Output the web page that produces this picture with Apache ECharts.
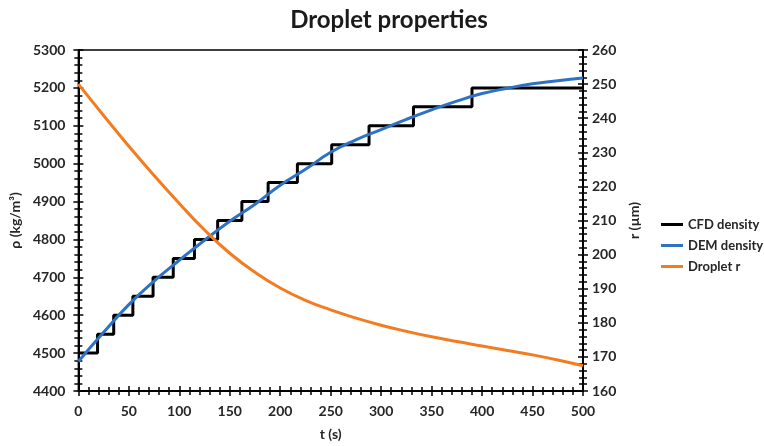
<!DOCTYPE html>
<html>
<head>
<meta charset="utf-8">
<script src="https://cdn.jsdelivr.net/npm/echarts@6/dist/echarts.min.js"></script>
<style>
  html, body { margin: 0; padding: 0; background: #fff; }
  #chart { width: 764px; height: 446px; }
</style>
</head>
<body>
<div id="chart"></div>
<script>
// CFD density: step changes (time s, density kg/m3)
const cfdTimes = [0, 19, 35, 54, 74, 94, 115, 138, 162, 188, 217, 251, 288, 332, 390, 500];
const cfdDensity = [4500, 4550, 4600, 4650, 4700, 4750, 4800, 4850, 4900, 4950, 5000, 5050, 5100, 5150, 5200, 5200];

// smooth curves sampled every 25 s
const curveTimes = [0, 25, 50, 75, 100, 125, 150, 175, 200, 225, 250, 275, 300, 325, 350, 375, 400, 425, 450, 475, 500];
const demDensity = [4478, 4555, 4628, 4690, 4745, 4798, 4848, 4893, 4943, 4985, 5030, 5063, 5090, 5117, 5142, 5165, 5185, 5199, 5211, 5219, 5226];
const dropletR = [250, 240.8, 231.8, 223.2, 215, 207.2, 200.4, 194.8, 190.2, 186.6, 183.8, 181.4, 179.3, 177.5, 175.9, 174.5, 173.2, 171.9, 170.6, 169.1, 167.4];

const seriesNames = ["CFD density", "DEM density", "Droplet r"];

const font = "Lato, 'Open Sans', sans-serif";
const labelStyle = { color: "#262626", fontWeight: "bold", fontSize: 14, fontFamily: font, formatter: (v) => String(v) };

function pairs(xs, ys) {
  return xs.map((x, i) => [x, ys[i]]);
}

const chart = echarts.init(document.getElementById("chart"));

function valueAxis(extra) {
  return Object.assign({
    type: "value",
    axisLine: { show: true, onZero: false, lineStyle: { color: "#000", width: 2 } },
    axisTick: { show: true, length: 5, lineStyle: { color: "#000", width: 1.5 } },
    minorTick: { show: true, splitNumber: 5, length: 4, lineStyle: { color: "#000", width: 1.5 } },
    splitLine: { show: false },
    axisLabel: labelStyle,
    nameTextStyle: { color: "#262626", fontWeight: "bold", fontSize: 14, fontFamily: font }
  }, extra);
}

// mirror axes (inside ticks only) to get cross-shaped ticks
function mirror(extra) {
  return valueAxis(Object.assign({
    axisLine: { show: false, onZero: false },
    axisLabel: { show: false },
    axisTick: { show: true, inside: true, length: 5, lineStyle: { color: "#000", width: 1.5 } },
    minorTick: { show: true, splitNumber: 5, length: 4, lineStyle: { color: "#000", width: 1.5 } }
  }, extra));
}

chart.setOption({
  backgroundColor: "#fff",
  animation: false,
  title: {
    text: "Droplet properties",
    left: 384,
    textAlign: "center",
    top: 3,
    textStyle: { color: "#1a1a1a", fontWeight: "bold", fontSize: 24, fontFamily: font }
  },
  grid: {
    left: 74, right: 181, top: 50, bottom: 51,
    show: true, borderColor: "#000", borderWidth: 1.5, backgroundColor: "transparent"
  },
  legend: {
    orient: "vertical",
    left: 656,
    top: 213,
    itemWidth: 22,
    itemHeight: 3,
    itemGap: 8,
    icon: "rect",
    data: seriesNames,
    textStyle: { color: "#262626", fontWeight: "bold", fontSize: 13, fontFamily: font }
  },
  xAxis: [
    valueAxis({
      min: 0, max: 500, interval: 50, position: "bottom",
      name: "t (s)", nameLocation: "middle", nameGap: 36,
      axisLabel: Object.assign({}, labelStyle, { margin: 13 })
    }),
    mirror({ min: 0, max: 500, interval: 50, position: "bottom" })
  ],
  yAxis: [
    valueAxis({
      min: 4400, max: 5300, interval: 100, position: "left",
      name: "ρ (kg/m³)", nameLocation: "middle", nameGap: 41, nameRotate: 90,
      axisLabel: Object.assign({}, labelStyle, { margin: 13 })
    }),
    valueAxis({
      min: 160, max: 260, interval: 10, position: "right",
      name: "r (µm)", nameLocation: "middle", nameGap: 40, nameRotate: 90,
      axisLabel: Object.assign({}, labelStyle, { margin: 9 })
    }),
    mirror({ min: 4400, max: 5300, interval: 100, position: "left" }),
    mirror({ min: 160, max: 260, interval: 10, position: "right" })
  ],
  series: [
    {
      name: seriesNames[0], type: "line", step: "end",
      xAxisIndex: 0, yAxisIndex: 0,
      data: pairs(cfdTimes, cfdDensity),
      showSymbol: false, symbol: "none",
      lineStyle: { color: "#000", width: 3 }, itemStyle: { color: "#000" }, z: 3
    },
    {
      name: seriesNames[1], type: "line", smooth: true,
      xAxisIndex: 0, yAxisIndex: 0,
      data: pairs(curveTimes, demDensity),
      showSymbol: false, symbol: "none",
      lineStyle: { color: "#2e72c6", width: 3 }, itemStyle: { color: "#2e72c6" }, z: 4
    },
    {
      name: seriesNames[2], type: "line", smooth: true,
      xAxisIndex: 0, yAxisIndex: 1,
      data: pairs(curveTimes, dropletR),
      showSymbol: false, symbol: "none",
      lineStyle: { color: "#f47c20", width: 3 }, itemStyle: { color: "#f47c20" }, z: 5
    }
  ]
});
</script>
</body>
</html>
